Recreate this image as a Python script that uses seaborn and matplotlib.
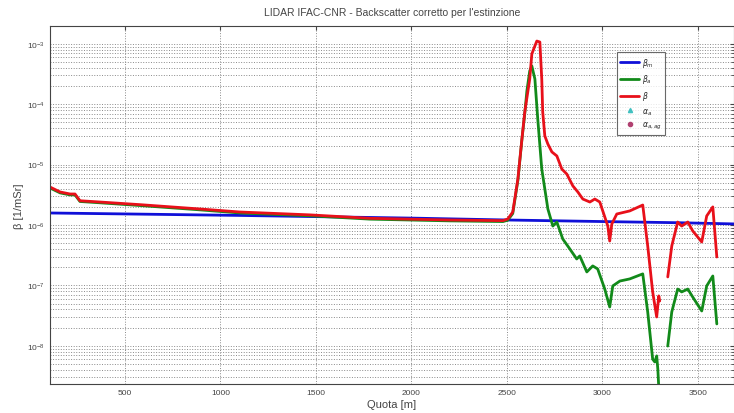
import numpy as np
import pandas as pd
import matplotlib
matplotlib.use("Agg")
import matplotlib.pyplot as plt
import seaborn as sns
from matplotlib.lines import Line2D
from matplotlib.ticker import LogLocator, NullFormatter, FixedLocator

# ---- data ----
x_ticks = [500, 1000, 1500, 2000, 2500, 3000, 3500]
y_ticks = [1e-8, 1e-7, 1e-6, 1e-5, 1e-4, 1e-3]

z_mol = [107, 600, 1100, 1600, 2000, 2500, 3000, 3400, 3700]
beta_mol = [1.58e-6, 1.51e-6, 1.44e-6, 1.36e-6, 1.30e-6, 1.21e-6, 1.14e-6, 1.09e-6, 1.04e-6]

z_tot = [107, 160, 212, 238, 264, 369, 579, 893, 1102, 1469, 1783, 2202, 2480, 2505, 2531,
         2558, 2579, 2594, 2620, 2631, 2647, 2657, 2673, 2683, 2688, 2699, 2715, 2736, 2762,
         2788, 2814, 2846, 2872, 2898, 2935, 2961, 2987, 3029, 3039, 3050, 3076, 3144, 3212,
         3238, 3264, 3285, 3296, 3301,
         3343, 3364, 3395, 3416, 3448, 3474, 3521, 3547, 3579, 3600]
beta_tot = [4.25e-6, 3.52e-6, 3.26e-6, 3.26e-6, 2.52e-6, 2.40e-6, 2.17e-6, 1.84e-6, 1.64e-6,
            1.47e-6, 1.29e-6, 1.21e-6, 1.18e-6, 1.26e-6, 1.64e-6,
            5.78e-6, 2.65e-5, 7.43e-5, 2.61e-4, 6.8e-4, 9.2e-4, 1.11e-3, 1.07e-3, 2.61e-4,
            7.43e-5, 2.98e-5, 2.19e-5, 1.62e-5, 1.39e-5,
            8.45e-6, 6.98e-6, 4.43e-6, 3.52e-6, 2.69e-6, 2.40e-6, 2.69e-6, 2.40e-6, 9.6e-7,
            5.43e-7, 1.04e-6, 1.52e-6, 1.71e-6, 2.14e-6,
            4.49e-7, 7.8e-8, 3.00e-8, 6.7e-8, 5.52e-8,
            1.38e-7, 4.49e-7, 1.12e-6, 9.6e-7, 1.12e-6, 7.96e-7, 5.23e-7, 1.41e-6, 1.99e-6, 2.95e-7]
seg_tot = [0] * 48 + [1] * 10

z_aer = [107, 160, 212, 238, 264, 369, 579, 893, 1102, 1469, 1783, 2202, 2480, 2505, 2531,
         2558, 2579, 2594, 2605, 2620, 2631, 2647, 2662, 2683, 2699, 2715, 2741, 2762, 2793,
         2830, 2866, 2882, 2919, 2950, 2976, 3013, 3039, 3055, 3092, 3144, 3212, 3238, 3264,
         3275, 3285, 3291, 3301,
         3343, 3364, 3395, 3416, 3448, 3474, 3521, 3547, 3579, 3600]
beta_aer = [4.1e-6, 3.4e-6, 3.15e-6, 3.15e-6, 2.45e-6, 2.33e-6, 2.1e-6, 1.78e-6, 1.58e-6,
            1.42e-6, 1.25e-6, 1.17e-6, 1.14e-6, 1.2e-6, 1.55e-6,
            5.5e-6, 2.6e-5, 7.0e-5, 1.65e-4, 3.55e-4, 4.29e-4, 2.61e-4, 5.69e-5, 8.45e-6,
            3.95e-6, 1.84e-6, 9.6e-7, 1.12e-6, 5.87e-7,
            4.01e-7, 2.74e-7, 3.07e-7, 1.67e-7, 2.10e-7, 1.87e-7, 8.7e-8, 4.39e-8, 9.8e-8,
            1.18e-7, 1.28e-7, 1.55e-7, 3.63e-8, 6.0e-9,
            5.4e-9, 6.8e-9, 4.1e-9, 1e-9,
            9.9e-9, 3.63e-8, 8.7e-8, 7.8e-8, 8.7e-8, 6.4e-8, 3.77e-8, 9.8e-8, 1.43e-7, 2.30e-8]
seg_aer = [0] * 47 + [1] * 10

labels = [r"$\beta_m$", r"$\beta_a$", r"$\beta$", r"$\alpha_a$", r"$\alpha_{a,ag}$"]
colors = {"mol": "#1010d8", "aer": "#128a1a", "tot": "#e8101a"}

rows = []
for z, b in zip(z_mol, beta_mol):
    rows.append(("mol", 0, z, b))
for z, b, s in zip(z_aer, beta_aer, seg_aer):
    rows.append(("aer", s, z, b))
for z, b, s in zip(z_tot, beta_tot, seg_tot):
    rows.append(("tot", s, z, b))
df = pd.DataFrame(rows, columns=["series", "seg", "z", "beta"])

sns.set_style("white")
plt.rcParams["font.family"] = ["Liberation Sans", "DejaVu Sans"]
plt.rcParams["mathtext.fontset"] = "dejavusans"

fig = plt.figure(figsize=(7.34, 4.14), dpi=100)
ax = fig.add_axes([50 / 734, 1 - 385 / 414, 684 / 734, 358 / 414])

sns.lineplot(data=df, x="z", y="beta", hue="series", units="seg", estimator=None,
             sort=False, palette=colors, hue_order=["mol", "aer", "tot"],
             linewidth=2.0, ax=ax, legend=False)

ax.set_yscale("log")
ax.set_xlim(107, 3690)
ax.set_ylim(2.33e-9, 1.97e-3)
ax.xaxis.set_major_locator(FixedLocator(x_ticks))
ax.yaxis.set_major_locator(FixedLocator(y_ticks))
ax.yaxis.set_minor_locator(LogLocator(base=10, subs=np.arange(2, 10), numticks=20))
ax.yaxis.set_minor_formatter(NullFormatter())

ax.grid(True, which="major", axis="x", color="#8a8a8a", linestyle=":", linewidth=0.7)
ax.grid(True, which="both", axis="y", color="#8a8a8a", linestyle=":", linewidth=0.7)
ax.tick_params(axis="both", which="both", direction="in", top=True, right=True,
               labelsize=6, colors="#444444", length=3)
ax.tick_params(axis="y", which="minor", length=2)
for sp in ax.spines.values():
    sp.set_color("#444444")
    sp.set_linewidth(0.8)

ax.set_title("LIDAR IFAC-CNR - Backscatter corretto per l'estinzione", fontsize=7.5,
             color="#444444", pad=8)
ax.set_xlabel("Quota [m]", fontsize=8, color="#444444", labelpad=2)
ax.set_ylabel("β [1/mSr]", fontsize=8, color="#444444", labelpad=2)

handles = [
    Line2D([], [], color=colors["mol"], lw=2),
    Line2D([], [], color=colors["aer"], lw=2),
    Line2D([], [], color=colors["tot"], lw=2),
    Line2D([], [], color="#40c0c0", lw=0, marker="^", markersize=3),
    Line2D([], [], color="#b04070", lw=0, marker="o", markersize=3),
]
leg = ax.legend(handles, labels, loc="upper left", bbox_to_anchor=(0.829, 0.927),
                fontsize=5.5, frameon=True, fancybox=False, edgecolor="#444444",
                handlelength=2.4, handletextpad=0.4, labelspacing=0.5,
                borderpad=0.45, borderaxespad=0)
leg.get_frame().set_linewidth(0.8)

fig.savefig("out.png", dpi=100)
